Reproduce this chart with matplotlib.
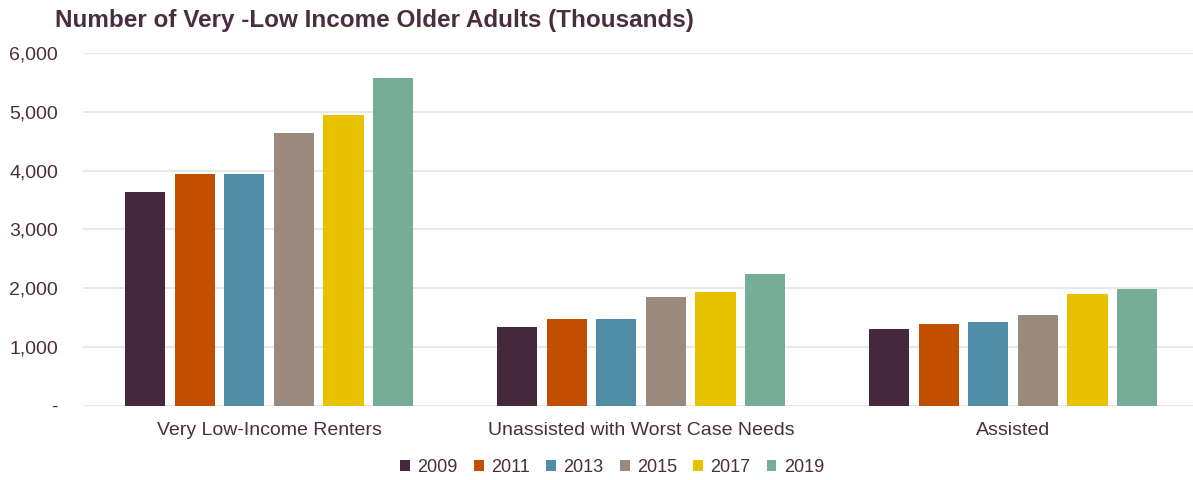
import numpy as np
import matplotlib.pyplot as plt
from matplotlib.ticker import FuncFormatter

## ------------------------------- DATA --------------------------------------##
categories = ['Very Low-Income Renters', 'Unassisted with Worst Case Needs', 'Assisted']
years = ['2009', '2011', '2013', '2015', '2017', '2019']
v2009 = [3644, 1335, 1306]
v2011 = [3945, 1471, 1386]
v2013 = [3945, 1471, 1420]
v2015 = [4649, 1856, 1550]
v2017 = [4950, 1936, 1907]
v2019 = [5574, 2237, 1987]
series = [v2009, v2011, v2013, v2015, v2017, v2019]
colors = ['#45283C', '#C24E00', '#508EA8', '#998A7D', '#E8C100', '#76AD96']

text_color = '#4A2E40'
plt.rcParams['font.family'] = ['Liberation Sans', 'DejaVu Sans']

## ------------------------------- PLOT --------------------------------------##
fig = plt.figure(figsize=(11.93, 4.8), dpi=100)
ax = fig.add_axes([0.0696, 0.1548, 0.9355, 0.7342])

x = np.arange(len(categories))
width = 0.108
pitch = 0.1333
for i, (vals, yr, c) in enumerate(zip(series, years, colors)):
    ax.bar(x + (i - 2.5) * pitch, vals, width, color=c, label=yr, zorder=3)

ax.set_xlim(-0.5, 2.5)
ax.set_ylim(0, 6000)
ax.set_yticks(np.arange(0, 6001, 1000))
ax.yaxis.set_major_formatter(FuncFormatter(lambda v, p: '-' if v == 0 else f'{int(v):,}'))
ax.set_xticks(x)
ax.set_xticklabels(categories)

ax.grid(axis='y', color='#E4E4E4', lw=1.2, zorder=0)
for s in ax.spines.values():
    s.set_visible(False)
ax.tick_params(axis='both', length=0, labelsize=14, colors=text_color)
ax.tick_params(axis='y', pad=18)
ax.tick_params(axis='x', pad=12)

fig.text(0.046, 0.957, 'Number of Very -Low Income Older Adults (Thousands)',
         fontsize=17.5, fontweight='bold', color=text_color, va='center', ha='left')

leg = fig.legend(loc='center', bbox_to_anchor=(0.513, 0.026), ncol=6, frameon=False,
                 fontsize=13, handlelength=0.55, handleheight=0.55, handletextpad=0.4,
                 columnspacing=0.9, labelcolor=text_color)

fig.savefig('out.png', dpi=100)
